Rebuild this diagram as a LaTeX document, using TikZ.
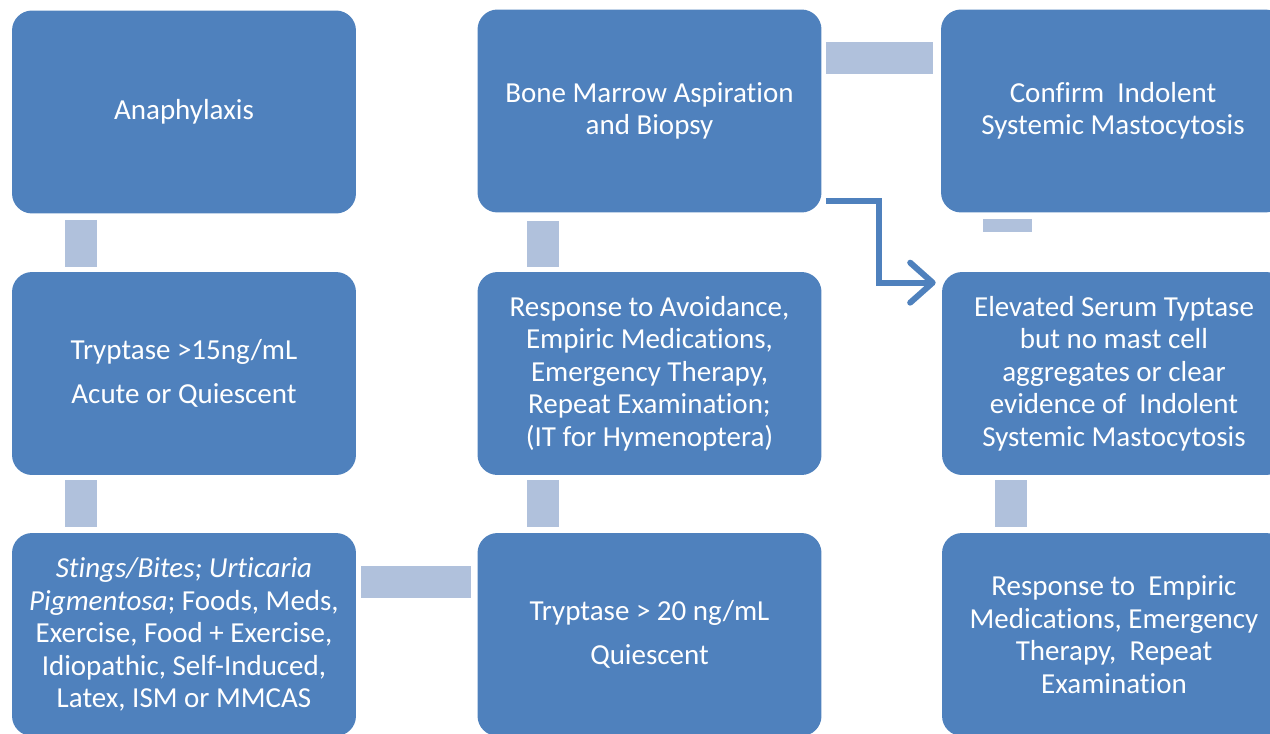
\documentclass[tikz,border=0pt]{standalone}
\usepackage{fontspec}
\setmainfont{Carlito}[Ligatures=NoCommon]
\usetikzlibrary{arrows.meta,calc}
\definecolor{boxblue}{RGB}{79,129,189}
\definecolor{linkblue}{RGB}{176,193,220}

\begin{document}
\begin{tikzpicture}[
                      x = 0.02cm,
                      y = -0.02cm,
         stepbox/.style = {rectangle, rounded corners=0.4cm, fill=boxblue, text=white,
                           minimum width=6.88cm, minimum height=4.06cm, inner sep=0pt,
                           align=center, font=\fontsize{16.5}{18.5}\selectfont},
            link/.style = {draw=linkblue, line width=0.64cm},
            jump/.style = {draw=boxblue, line width=0.12cm,
                           -{Straight Barb[length=0.45cm, width=0.8cm, round]}},
                     ]
\useasboundingbox (0,0) rectangle (1270,733);
\clip (0,0) rectangle (1270,733);

% left column
\node[stepbox] (ana)    at (184,112)   {Anaphylaxis};
\node[stepbox] (tryp)   at (184,373.5) {Tryptase >15ng/mL\\[6.8pt] Acute or Quiescent};
\node[stepbox] (stings) at (184,634.5) {\textit{Stings/Bites; Urticaria}\\
    \textit{Pigmentosa}; Foods, Meds,\\ Exercise, Food + Exercise,\\
    Idiopathic, Self-Induced,\\ Latex, ISM or MMCAS};
% middle column
\node[stepbox] (bone)   at (649.5,111) {Bone Marrow Aspiration\\ and Biopsy};
\node[stepbox] (resp)   at (649.5,373.5) {Response to Avoidance,\\ Empiric Medications,\\
    Emergency Therapy,\\ Repeat Examination;\\ (IT for Hymenoptera)};
\node[stepbox] (quies)  at (649.5,634.5) {Tryptase > 20 ng/mL\\[6.8pt] Quiescent};
% right column
\node[stepbox] (confirm) at (1113,111) {Confirm~~Indolent\\ Systemic Mastocytosis};
\node[stepbox] (elev)    at (1114,373.5) {Elevated Serum Typtase\\ but no mast cell\\
    aggregates or clear\\ evidence of~~Indolent\\ Systemic Mastocytosis};
\node[stepbox] (empiric) at (1114,634.5) {Response to~~Empiric\\ Medications, Emergency\\
    Therapy,~~Repeat\\ Examination};

\draw[link] ($(ana.south west)+(69,6)$)     -- ($(tryp.north west)+(69,-5)$);
\draw[link] ($(tryp.south west)+(69,5)$)    -- ($(stings.north west)+(69,-6)$);
\draw[link] ($(stings.north east)+(5,49)$)  -- ($(quies.north west)+(-6,49)$);
\draw[link] ($(quies.north west)+(66,-6)$)  -- ($(resp.south west)+(66,5)$);
\draw[link] ($(resp.north west)+(66,-5)$)   -- ($(bone.south west)+(66,8)$);
\draw[link] ($(bone.north east)+(4,49)$)    -- ($(confirm.north west)+(-8,49)$);
\draw[link, line width=0.98cm] ($(confirm.south west)+(67,6)$) -- ++(0,13);
\draw[link] ($(elev.south west)+(69,5)$)    -- ($(empiric.north west)+(69,-6)$);

\draw[jump] ($(bone.south east)+(4,-12)$) -- ++(53,0) |- ($(elev.north west)+(-6,11)$);
\end{tikzpicture}
\end{document}
